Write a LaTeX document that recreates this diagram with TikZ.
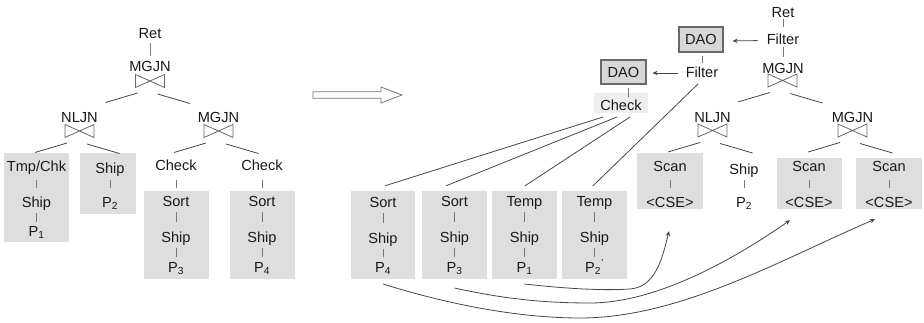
\documentclass[tikz,border=0pt]{standalone}
\usepackage{fontspec}
\setmainfont{Liberation Sans}
\usetikzlibrary{calc,arrows.meta}
\definecolor{boxgray}{RGB}{222,222,222}
\definecolor{checkbg}{RGB}{238,238,238}
\definecolor{daofill}{RGB}{215,215,215}
\definecolor{daodraw}{RGB}{105,105,105}
\definecolor{linecol}{RGB}{70,70,70}
\definecolor{tickcol}{RGB}{120,120,120}
\definecolor{tiecol}{RGB}{105,105,105}
\definecolor{hollowcol}{RGB}{120,120,120}
\definecolor{textcol}{RGB}{25,25,25}
\tikzset{
  txt/.style={inner sep=0pt, text height=10.4pt, text depth=0pt, text=textcol},
  gbox/.style={fill=boxgray, draw=none, inner sep=0pt},
  daobox/.style={fill=daofill, draw=daodraw, line width=1.2pt, inner sep=0pt,
    text height=10.4pt, text depth=0pt, text=textcol},
  link/.style={draw=linecol, line width=0.8pt},
  tick/.style 2 args={draw=tickcol, line width=0.7pt, shorten <=#1pt, shorten >=#2pt},
  arr/.style={draw=linecol, line width=0.8pt, -{Stealth[length=5pt,width=4.5pt]}},
  bowtie/.pic={
    \draw[draw=tiecol, line width=0.8pt] (-14.5,-6.5) -- (14.5,6.5) -- (14.5,-6.5) -- (-14.5,6.5) -- cycle;
    \draw[link] (-12.5,12) -- (-44.5,21.5);
    \draw[link] (7.5,13) -- (40,22.5);
  }
}
\begin{document}
\begin{tikzpicture}[x=1pt,y=-1pt,font=\fontsize{14.6}{17.5}\selectfont]
\useasboundingbox (0,0) rectangle (924,323);

% ---------------- left tree ----------------
\node[gbox, minimum width=65pt, minimum height=89pt] (bA) at (36.5,197.5) {};
\node[gbox, minimum width=56pt, minimum height=61pt] (bB) at (108,183.5) {};
\node[gbox, minimum width=65pt, minimum height=88pt] (bC) at (176.5,235) {};
\node[gbox, minimum width=65pt, minimum height=88pt] (bD) at (262.5,235) {};

\node[txt] (retL) at (150,33) {Ret};
\node[txt] (mgL) at (150,66) {MGJN};
\coordinate (btL) at (150,81);
\pic at (btL) {bowtie};
\draw[tick={5}{5}] (retL.south) -- (mgL.north);

\node[txt] (nlL) at (79.5,117) {NLJN};
\coordinate (btL2) at (79.5,131);
\pic at (btL2) {bowtie};
\node[txt] (mgL2) at (218.5,117) {MGJN};
\coordinate (btL3) at (218.5,131);
\pic at (btL3) {bowtie};

\node[txt] (tcA) at (36.5,166) {Tmp/Chk};
\node[txt] (sA) at (36.5,202) {Ship};
\node[txt] (pA) at (36.5,231) {P\textsubscript{1}};
\draw[tick={9}{9}] (tcA.south) -- (sA.north);
\draw[tick={6}{4}] (sA.south) -- (pA.north);

\node[txt] (sB) at (110,168) {Ship};
\node[txt] (pB) at (110,202) {P\textsubscript{2}};
\draw[tick={7}{9}] (sB.south) -- (pB.north);

\node[txt] (ckC) at (176,165) {Check};
\node[txt] (soC) at (176,201) {Sort};
\node[txt] (shC) at (176,237) {Ship};
\node[txt] (pC) at (176,267) {P\textsubscript{3}};
\draw[tick={10}{8}] (ckC.south) -- (soC.north);
\draw[tick={6}{10}] (soC.south) -- (shC.north);
\draw[tick={6}{5}] (shC.south) -- (pC.north);

\node[txt] (ckD) at (262,165) {Check};
\node[txt] (soD) at (262,201) {Sort};
\node[txt] (shD) at (262,237) {Ship};
\node[txt] (pD) at (262,267) {P\textsubscript{4}};
\draw[tick={10}{8}] (ckD.south) -- (soD.north);
\draw[tick={6}{10}] (soD.south) -- (shD.north);
\draw[tick={6}{5}] (shD.south) -- (pD.north);

% ---------------- hollow arrow ----------------
\draw[draw=hollowcol, line width=0.8pt, fill=white]
  (313,91.7) -- (381,91.7) -- (381,87) -- (402,95) -- (381,103) -- (381,98.3) -- (313,98.3) -- cycle;

% ---------------- right side ----------------
\node[gbox, minimum width=64pt, minimum height=88pt] (bE) at (383,235) {};
\node[gbox, minimum width=65pt, minimum height=88pt] (bF) at (454.5,235) {};
\node[gbox, minimum width=65pt, minimum height=88pt] (bG) at (524.5,235) {};
\node[gbox, minimum width=65pt, minimum height=88pt] (bH) at (594.5,235) {};
\node[gbox, minimum width=66pt, minimum height=56pt] (s1) at (670,181) {};
\node[gbox, minimum width=65pt, minimum height=51pt] (s2) at (809.5,183.5) {};
\node[gbox, minimum width=66pt, minimum height=51pt] (s3) at (889,183.5) {};
\node[fill=checkbg, inner sep=0pt, minimum width=54pt, minimum height=20pt] (ckbg) at (621,103) {};

\node[txt] (retR) at (783,12) {Ret};
\node[txt] (fR1) at (783,39) {Filter};
\node[txt] (mgR) at (783,68) {MGJN};
\coordinate (btR) at (782.5,80.5);
\pic at (btR) {bowtie};
\draw[tick={2}{7}] (retR.south) -- (fR1.north);
\draw[tick={3}{6}] (fR1.south) -- (mgR.north);

\node[daobox, minimum width=44pt, minimum height=25pt] (dao1) at (701,39.5) {DAO};
\node[txt] (fR2) at (702,72) {Filter};
\node[daobox, minimum width=45pt, minimum height=24pt] (dao2) at (623.5,72) {DAO};
\node[txt] (ckR) at (621,105) {Check};
\draw[tick={3}{4}] ([xshift=1pt]dao1.south) -- (fR2.north);
\draw[tick={3}{3}] ([xshift=4.5pt]dao2.south) -- ([xshift=7pt]ckR.north);
\draw[arr, shorten <=9pt, shorten >=9pt] ([yshift=-1.5pt]fR1.west) -- ([yshift=-1.5pt]dao1.east);
\draw[arr, shorten <=7.5pt, shorten >=6pt] ([yshift=-1pt]fR2.west) -- ([yshift=-1pt]dao2.east);

\node[txt] (nlR) at (712.5,117) {NLJN};
\coordinate (btR2) at (712.5,130.5);
\pic at (btR2) {bowtie};
\node[txt] (mgR2) at (852.5,117) {MGJN};
\coordinate (btR3) at (852.5,130.5);
\pic at (btR3) {bowtie};

\node[txt] (sc1) at (670,166) {Scan};
\node[txt] (cs1) at (670,202) {<CSE>};
\draw[tick={9}{9}] (sc1.south) -- (cs1.north);
\node[txt] (shR) at (744,169) {Ship};
\node[txt] (p2R) at (744,202) {P\textsubscript{2}};
\draw[tick={6}{9}] (shR.south) -- (p2R.north);
\node[txt] (sc2) at (809,166) {Scan};
\node[txt] (cs2) at (809,202) {<CSE>};
\draw[tick={9}{9}] (sc2.south) -- (cs2.north);
\node[txt] (sc3) at (889,166) {Scan};
\node[txt] (cs3) at (889,202) {<CSE>};
\draw[tick={9}{9}] (sc3.south) -- (cs3.north);

\node[txt] (soE) at (383,202) {Sort};
\node[txt] (shE) at (383,238) {Ship};
\node[txt] (pE) at (383,267) {P\textsubscript{4}};
\draw[tick={6}{10}] (soE.south) -- (shE.north);
\draw[tick={6}{5}] (shE.south) -- (pE.north);

\node[txt] (soF) at (454.5,201) {Sort};
\node[txt] (shF) at (454.5,237) {Ship};
\node[txt] (pF) at (454.5,267) {P\textsubscript{3}};
\draw[tick={6}{10}] (soF.south) -- (shF.north);
\draw[tick={6}{5}] (shF.south) -- (pF.north);

\node[txt] (tG) at (524.5,201) {Temp};
\node[txt] (shG) at (524.5,237) {Ship};
\node[txt] (pG) at (524.5,267) {P\textsubscript{1}};
\draw[tick={6}{10}] (tG.south) -- (shG.north);
\draw[tick={6}{5}] (shG.south) -- (pG.north);

\node[txt] (tH) at (594.5,201) {Temp};
\node[txt] (shH) at (594.5,237) {Ship};
\node[txt] (pH) at (594.5,267) {P\textsubscript{2}\textsuperscript{'}};
\draw[tick={6}{10}] (tH.south) -- (shH.north);
\draw[tick={6}{5}] (shH.south) -- (pH.north);

% connectors from Check / Filter to the leaf boxes
\draw[link] ($(ckR)+(-18,12)$) -- ($(bE.north)+(2,-5)$);
\draw[link] ($(ckR)+(-4,12)$) -- ($(bF.north)+(-8.5,-5)$);
\draw[link] ($(ckR)+(9,12)$) -- ($(bG.north)+(0.5,-5)$);
\draw[link] ($(fR2)+(-4,12)$) -- ($(bH.north)+(-1.5,-5)$);

% curved arrows to the <CSE> scans
\draw[arr] ($(pG)+(0,17)$) .. controls (560,288) and (600,291) .. (630,289)
  .. controls (655,287) and (662,260) .. ($(s1.south)+(-1,22)$);
\draw[arr] ($(pF)+(0,21)$) .. controls (500,298) and (540,303) .. (590,303)
  .. controls (660,303) and (740,255) .. ($(s2.south)+(-19.5,11)$);
\draw[arr] ($(pE)+(0,17)$) .. controls (450,305) and (520,318) .. (580,318)
  .. controls (680,318) and (780,260) .. ($(s3.south)+(-14,10)$);
\end{tikzpicture}
\end{document}
